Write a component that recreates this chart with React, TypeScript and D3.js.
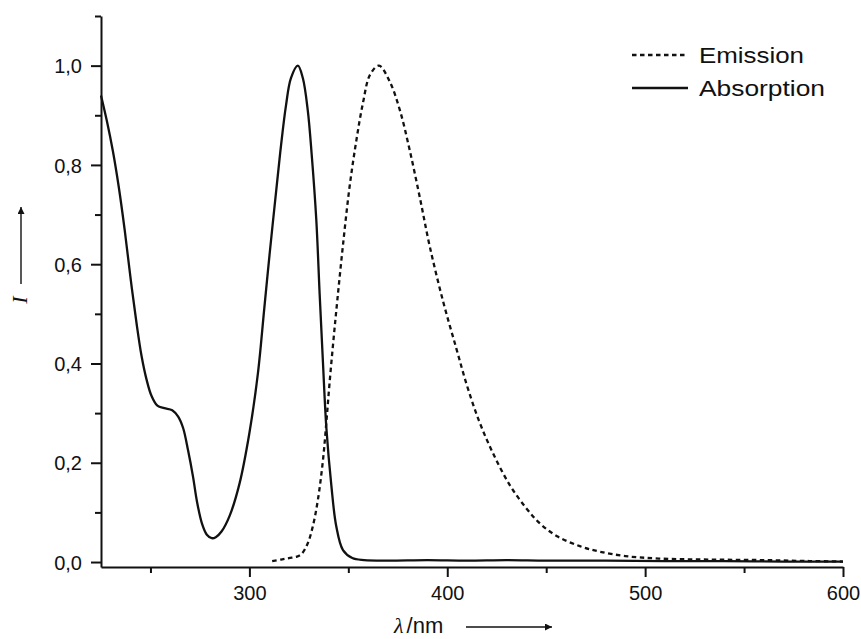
import React, { useEffect, useRef } from 'react';
import * as d3 from 'd3';

// absorption spectrum (normalised)
const absWavelength = [225, 228, 231, 234, 237, 240, 243, 245.5, 248, 250.5, 253.5, 257, 261, 264, 266.5, 269, 271.5, 273.5, 276, 278.5, 281, 283, 286, 290, 295, 300, 304.3, 307.5, 310.2, 313.6, 316, 318.5, 321, 324.5, 327, 329.5, 331.5, 333.8, 335.5, 337.2, 338.9, 341.4, 343.9, 347.3, 352, 358, 370, 390, 410, 430, 450, 480, 510, 540, 570, 600];
const absIntensity = [0.94, 0.888, 0.828, 0.755, 0.668, 0.57, 0.48, 0.415, 0.368, 0.335, 0.315, 0.31, 0.306, 0.293, 0.27, 0.225, 0.172, 0.122, 0.078, 0.055, 0.048, 0.05, 0.062, 0.093, 0.158, 0.26, 0.38, 0.51, 0.62, 0.75, 0.84, 0.92, 0.975, 1.0, 0.975, 0.91, 0.82, 0.69, 0.54, 0.4, 0.27, 0.155, 0.072, 0.024, 0.008, 0.004, 0.003, 0.004, 0.003, 0.004, 0.003, 0.003, 0.002, 0.002, 0.001, 0.001];

// emission spectrum (normalised)
const emWavelength = [311.5, 316, 320, 324, 326.5, 329.5, 332, 334.6, 337.2, 338.9, 340.5, 342.5, 344.5, 347.2, 350.6, 354, 357.4, 361, 365.5, 370.9, 376, 381, 386.1, 391.2, 397.9, 404.6, 410, 416, 423, 431.6, 440, 447, 455.5, 467, 477, 490, 507, 532, 558, 583, 600];
const emIntensity = [0.002, 0.005, 0.008, 0.011, 0.017, 0.038, 0.071, 0.125, 0.206, 0.282, 0.36, 0.448, 0.53, 0.635, 0.755, 0.848, 0.925, 0.982, 1.0, 0.968, 0.911, 0.83, 0.735, 0.635, 0.525, 0.43, 0.355, 0.285, 0.22, 0.155, 0.108, 0.077, 0.052, 0.032, 0.021, 0.012, 0.007, 0.005, 0.004, 0.002, 0.001];

const xMajor = [300, 400, 500, 600];
const xMinor = [250, 350, 450, 550];
const yMajor = [0, 0.2, 0.4, 0.6, 0.8, 1.0];
const yMinor = [0.1, 0.3, 0.5, 0.7, 0.9, 1.1];

const legendLabels = ['Emission', 'Absorption'];

const App: React.FC = () => {
    const chartRef = useRef<SVGSVGElement | null>(null);

    useEffect(() => {
        if (!chartRef.current) return;
        const svg = d3.select(chartRef.current);
        svg.selectAll('*').remove();

        const width = 861;
        const height = 639;
        const left = 101, right = 843, top = 16, bottom = 567;
        const font = 'Arial, "Liberation Sans", sans-serif';

        svg.attr('width', width).attr('height', height);
        svg.append('rect').attr('width', width).attr('height', height).attr('fill', '#fff');

        const x = d3.scaleLinear().domain([225, 600]).range([left, right]);
        const y = d3.scaleLinear().domain([-0.01, 1.1]).range([bottom, top]);

        const line = d3.line<[number, number]>()
            .x(d => x(d[0]))
            .y(d => y(d[1]))
            .curve(d3.curveCatmullRom.alpha(0.5));

        const absData = absWavelength.map((w, i) => [w, absIntensity[i]] as [number, number]);
        const emData = emWavelength.map((w, i) => [w, emIntensity[i]] as [number, number]);

        svg.append('path')
            .attr('d', line(emData) as string)
            .attr('fill', 'none')
            .attr('stroke', '#111')
            .attr('stroke-width', 2.3)
            .attr('stroke-dasharray', '4.5,3.5');

        svg.append('path')
            .attr('d', line(absData) as string)
            .attr('fill', 'none')
            .attr('stroke', '#111')
            .attr('stroke-width', 2.3);

        const fmt = (d: d3.NumberValue) => d3.format('.1f')(d as number).replace('.', ',');

        // y axis
        const yAxis = svg.append('g').attr('transform', `translate(${left},0)`)
            .call(d3.axisLeft(y).tickValues(yMajor).tickSize(10).tickSizeOuter(0).tickPadding(9).tickFormat(fmt));
        svg.append('g').attr('transform', `translate(${left},0)`)
            .call(d3.axisLeft(y).tickValues(yMinor).tickSize(6).tickSizeOuter(0).tickFormat(() => ''))
            .select('.domain').remove();

        // x axis
        const xAxis = svg.append('g').attr('transform', `translate(0,${bottom})`)
            .call(d3.axisBottom(x).tickValues(xMajor).tickSize(10).tickSizeOuter(0).tickPadding(9).tickFormat(d3.format('d')));
        svg.append('g').attr('transform', `translate(0,${bottom})`)
            .call(d3.axisBottom(x).tickValues(xMinor).tickSize(6).tickSizeOuter(0).tickFormat(() => ''))
            .select('.domain').remove();

        svg.selectAll('.domain, .tick line').attr('stroke', '#111').attr('stroke-width', 2);
        svg.selectAll('.tick text')
            .attr('fill', '#111')
            .style('font-family', font)
            .style('font-size', '20px');
        yAxis.selectAll('.tick text').attr('dy', '0.36em');
        xAxis.selectAll('.tick text').attr('dy', '0.71em');

        // arrows
        const defs = svg.append('defs');
        defs.append('marker')
            .attr('id', 'arrow')
            .attr('viewBox', '0 0 10 10')
            .attr('refX', 10).attr('refY', 5)
            .attr('markerWidth', 13).attr('markerHeight', 7)
            .attr('markerUnits', 'userSpaceOnUse')
            .attr('orient', 'auto')
            .append('path').attr('d', 'M0,0L10,5L0,10Z').attr('fill', '#111');

        // y label
        svg.append('text')
            .attr('transform', 'translate(27,300) rotate(-90)')
            .attr('text-anchor', 'middle')
            .style('font-family', '"Liberation Serif", "Times New Roman", serif')
            .style('font-style', 'italic')
            .style('font-size', '22px')
            .attr('fill', '#111')
            .text('I');
        svg.append('line')
            .attr('x1', 21).attr('y1', 284).attr('x2', 21).attr('y2', 207)
            .attr('stroke', '#111').attr('stroke-width', 1.4)
            .attr('marker-end', 'url(#arrow)');

        // x label
        const xl = svg.append('text')
            .attr('x', 394).attr('y', 633)
            .attr('fill', '#111')
            .style('font-size', '22px');
        xl.append('tspan')
            .style('font-family', '"Liberation Serif", "Times New Roman", serif')
            .style('font-style', 'italic')
            .text('λ');
        xl.append('tspan')
            .attr('dx', 3)
            .style('font-family', font)
            .text('/nm');
        svg.append('line')
            .attr('x1', 466).attr('y1', 627).attr('x2', 552).attr('y2', 627)
            .attr('stroke', '#111').attr('stroke-width', 1.4)
            .attr('marker-end', 'url(#arrow)');

        // legend
        const legend = svg.append('g');
        legendLabels.forEach((label, i) => {
            const ly = 55 + i * 33;
            legend.append('line')
                .attr('x1', 632).attr('x2', 688).attr('y1', ly).attr('y2', ly)
                .attr('stroke', '#111').attr('stroke-width', 2.3)
                .attr('stroke-dasharray', i === 0 ? '4.5,3.5' : null);
            legend.append('text')
                .attr('x', 699).attr('y', ly + 7.5)
                .attr('fill', '#111')
                .attr('textLength', i === 0 ? 105 : 126)
                .attr('lengthAdjust', 'spacingAndGlyphs')
                .style('font-family', font)
                .style('font-size', '22px')
                .text(label);
        });
    }, []);

    return (
        <svg ref={chartRef} style={{ position: 'absolute', left: 0, top: 0, display: 'block' }}></svg>
    );
};

export default App;
